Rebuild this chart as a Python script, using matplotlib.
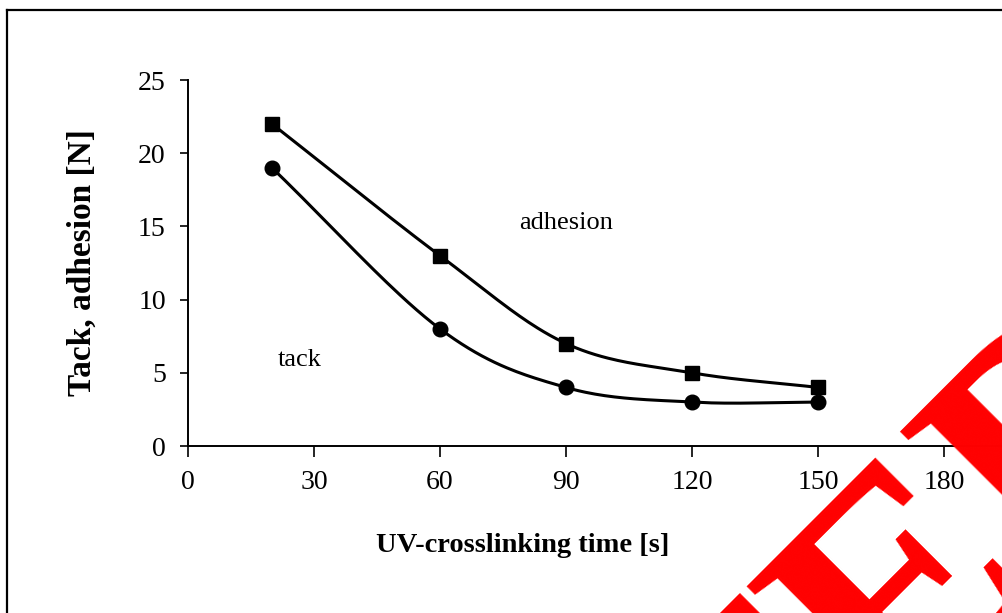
import numpy as np
import matplotlib
matplotlib.use("Agg")
import matplotlib.pyplot as plt
from matplotlib.lines import Line2D

# Tack and adhesion vs. UV-crosslinking time
time_s = [20, 60, 90, 120, 150]
adhesion = [22, 13, 7, 5, 4]
tack = [19, 8, 4, 3, 3]

x_ticks = [0, 30, 60, 90, 120, 150, 180]
y_ticks = [0, 5, 10, 15, 20, 25]

plt.rcParams["font.family"] = ["Liberation Serif", "DejaVu Serif"]


def smooth(x, y, n=40):
    # Catmull-Rom curve through the points, like a spreadsheet "smoothed line"
    x = np.asarray(x, float)
    y = np.asarray(y, float)
    px = np.concatenate([[2 * x[0] - x[1]], x, [2 * x[-1] - x[-2]]])
    py = np.concatenate([[2 * y[0] - y[1]], y, [2 * y[-1] - y[-2]]])
    xs, ys = [], []
    t = np.linspace(0, 1, n)
    for i in range(1, len(px) - 2):
        for p, out in ((px, xs), (py, ys)):
            p0, p1, p2, p3 = p[i - 1], p[i], p[i + 1], p[i + 2]
            out.extend(0.5 * ((2 * p1) + (-p0 + p2) * t
                              + (2 * p0 - 5 * p1 + 4 * p2 - p3) * t ** 2
                              + (-p0 + 3 * p1 - 3 * p2 + p3) * t ** 3))
    return np.array(xs), np.array(ys)


W, H = 1003, 613
fig = plt.figure(figsize=(W / 100, H / 100), dpi=100)

# axes: x=0 at 188 px, 30 s per 126 px (runs on past the right edge); y=0 at 446 px, y=25 at 80 px
left, right = 188, 188 + 7 * 126
bottom, top = 446, 80
ax = fig.add_axes([left / W, (H - bottom) / H, (right - left) / W, (bottom - top) / H])

for xs, ys, mk in ((time_s, adhesion, "s"), (time_s, tack, "o")):
    sx, sy = smooth(xs, ys)
    ax.plot(sx, sy, color="black", lw=2.2, solid_capstyle="round", zorder=2)
    ax.plot(xs, ys, linestyle="none", marker=mk, ms=10.5, color="black", zorder=3)

ax.set_xlim(0, 210)
ax.set_ylim(0, 25)
ax.set_xticks(x_ticks)
ax.set_yticks(y_ticks)
ax.tick_params(axis="x", direction="out", length=8, width=1.2, pad=9, labelsize=20)
ax.tick_params(axis="y", direction="out", length=6, width=1.2, pad=10, labelsize=20)
for s in ("top", "right"):
    ax.spines[s].set_visible(False)
for s in ("left", "bottom"):
    ax.spines[s].set_linewidth(1.4)
ax.patch.set_alpha(0)

ax.text(90, 15.2, "adhesion", ha="center", va="center", fontsize=19)
ax.text(26.7, 5.9, "tack", ha="center", va="center", fontsize=19)

fig.text(523 / W, 1 - 545 / H, "UV-crosslinking time [s]", ha="center", va="center",
         fontsize=20.5, fontweight="bold")
fig.text(82 / W, 1 - 263 / H, "Tack, adhesion [N]", ha="center", va="center",
         fontsize=24, fontweight="bold", rotation=90)

# page frame (left and top edges)
fig.add_artist(Line2D([7.5 / W, 7.5 / W], [0, 1 - 10 / H], color="black", lw=1.6,
                      transform=fig.transFigure))
fig.add_artist(Line2D([7.5 / W, 1], [1 - 10 / H, 1 - 10 / H], color="black", lw=1.6,
                      transform=fig.transFigure))

# red stamp across the lower right corner
fig.text(922 / W, 1 - 598 / H, "TED", color="red", fontsize=235, fontweight="bold",
         rotation=45, ha="center", va="center", rotation_mode="anchor", zorder=5)

fig.savefig("out.png", dpi=100)
